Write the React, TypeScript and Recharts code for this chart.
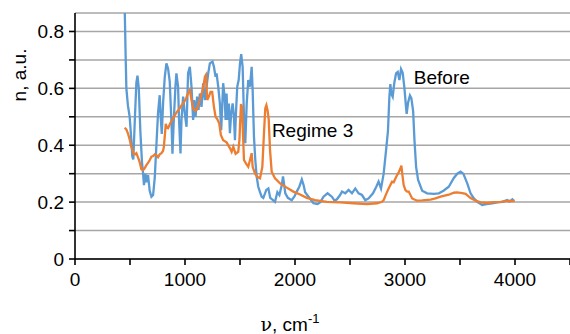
import React from 'react';
import { LineChart, Line, XAxis, YAxis, CartesianGrid, ReferenceDot } from 'recharts';

// Wavenumber (cm-1) and n (a.u.) for the "Before" spectrum
const beforeWavenumbers = [
  452, 460, 467, 481, 497, 512, 521, 530, 545, 558, 568, 580, 594, 609, 618, 627, 640, 649, 664, 679,
  695, 710, 725, 740, 755, 770, 779, 789, 801, 816, 831, 846, 861, 877, 886, 898, 913, 922, 937, 946,
  959, 968, 983, 998, 1014, 1028, 1044, 1059, 1074, 1083, 1096, 1110, 1123, 1135, 1150, 1165, 1181, 1196, 1211, 1226,
  1250, 1263, 1278, 1287, 1302, 1317, 1329, 1338, 1347, 1360, 1369, 1378, 1387, 1399, 1408, 1420, 1433, 1445, 1454, 1463,
  1475, 1488, 1500, 1511, 1524, 1536, 1548, 1561, 1575, 1591, 1606, 1615, 1627, 1639, 1652, 1666, 1682, 1697, 1712, 1739,
  1758, 1775, 1800, 1818, 1840, 1858, 1880, 1891, 1912, 1935, 1970, 1995, 2016, 2040, 2062, 2078, 2092, 2123, 2168, 2205,
  2230, 2259, 2296, 2335, 2360, 2381, 2410, 2427, 2457, 2487, 2518, 2548, 2578, 2609, 2639, 2669, 2709, 2739, 2760, 2782,
  2806, 2828, 2845, 2858, 2867, 2876, 2888, 2903, 2919, 2934, 2949, 2964, 2979, 2995, 3008, 3015, 3028, 3045, 3058, 3074,
  3086, 3101, 3119, 3156, 3201, 3262, 3307, 3350, 3398, 3444, 3475, 3505, 3530, 3566, 3596, 3626, 3660, 3702, 3740, 3794,
  3840, 3885, 3915, 3930, 3950, 3976, 3991,
];
const beforeValues = [
  0.88, 0.72, 0.6, 0.54, 0.5, 0.42, 0.36, 0.35, 0.5, 0.62, 0.645, 0.6, 0.45, 0.34, 0.305, 0.26, 0.3, 0.27, 0.295, 0.24,
  0.219, 0.225, 0.285, 0.4, 0.515, 0.576, 0.5, 0.44, 0.55, 0.64, 0.688, 0.67, 0.625, 0.48, 0.37, 0.489, 0.606, 0.653, 0.606, 0.489,
  0.371, 0.489, 0.571, 0.512, 0.465, 0.653, 0.676, 0.606, 0.489, 0.559, 0.5, 0.571, 0.524, 0.582, 0.535, 0.618, 0.559, 0.606, 0.653, 0.688,
  0.694, 0.676, 0.641, 0.653, 0.606, 0.547, 0.453, 0.535, 0.618, 0.571, 0.489, 0.582, 0.489, 0.547, 0.442, 0.512, 0.547, 0.5, 0.418, 0.512,
  0.606, 0.629, 0.688, 0.72, 0.676, 0.5, 0.407, 0.547, 0.629, 0.606, 0.676, 0.594, 0.43, 0.348, 0.289, 0.254, 0.235, 0.219, 0.215, 0.243,
  0.248, 0.215, 0.207, 0.201, 0.235, 0.225, 0.26, 0.29, 0.231, 0.215, 0.207, 0.22, 0.237, 0.255, 0.28, 0.26, 0.235, 0.219, 0.196, 0.193,
  0.2, 0.219, 0.231, 0.219, 0.205, 0.21, 0.225, 0.237, 0.231, 0.243, 0.231, 0.248, 0.231, 0.225, 0.207, 0.213, 0.231, 0.254, 0.272, 0.248,
  0.3, 0.383, 0.45, 0.57, 0.615, 0.58, 0.57, 0.62, 0.653, 0.658, 0.629, 0.668, 0.655, 0.6, 0.54, 0.51, 0.55, 0.575, 0.565, 0.52,
  0.418, 0.324, 0.278, 0.24, 0.231, 0.229, 0.231, 0.24, 0.254, 0.285, 0.3, 0.307, 0.3, 0.266, 0.231, 0.213, 0.2, 0.19, 0.193, 0.196,
  0.199, 0.201, 0.205, 0.207, 0.202, 0.21, 0.204,
];

// Wavenumber (cm-1) and n (a.u.) for the "Regime 3" spectrum
const regime3Wavenumbers = [
  452, 467, 481, 497, 512, 533, 545, 558, 570, 582, 595, 603, 620, 634, 649, 664, 680, 695, 710, 725,
  740, 755, 770, 786, 800, 807, 818, 825, 835, 846, 860, 877, 892, 907, 922, 937, 952, 968, 983, 998,
  1013, 1028, 1044, 1059, 1074, 1090, 1105, 1120, 1135, 1150, 1165, 1181, 1190, 1202, 1217, 1232, 1247, 1263, 1278, 1293,
  1311, 1326, 1347, 1378, 1408, 1424, 1439, 1460, 1484, 1495, 1500, 1509, 1518, 1527, 1536, 1554, 1575, 1591, 1606, 1615,
  1636, 1657, 1682, 1703, 1718, 1730, 1740, 1752, 1761, 1773, 1788, 1818, 1864, 1925, 1985, 2046, 2107, 2183, 2290, 2411,
  2532, 2654, 2745, 2791, 2806, 2830, 2851, 2882, 2897, 2928, 2943, 2958, 2967, 2975, 2988, 3004, 3019, 3034, 3065, 3110,
  3156, 3232, 3277, 3323, 3398, 3444, 3475, 3520, 3551, 3596, 3642, 3688, 3748, 3809, 3870, 3930, 3997,
];
const regime3Values = [
  0.462, 0.455, 0.442, 0.42, 0.395, 0.37, 0.368, 0.372, 0.36, 0.348, 0.33, 0.316, 0.313, 0.32, 0.33, 0.338, 0.348, 0.36, 0.362, 0.368,
  0.365, 0.358, 0.368, 0.372, 0.38, 0.392, 0.44, 0.475, 0.462, 0.46, 0.472, 0.485, 0.495, 0.505, 0.515, 0.522, 0.53, 0.54, 0.548, 0.556,
  0.568, 0.584, 0.594, 0.559, 0.53, 0.522, 0.524, 0.54, 0.56, 0.58, 0.6, 0.641, 0.647, 0.559, 0.571, 0.588, 0.588, 0.535, 0.5, 0.492,
  0.477, 0.436, 0.418, 0.41, 0.39, 0.377, 0.395, 0.37, 0.377, 0.42, 0.47, 0.545, 0.535, 0.442, 0.348, 0.336, 0.324, 0.348, 0.372, 0.324,
  0.301, 0.289, 0.284, 0.324, 0.442, 0.53, 0.541, 0.52, 0.49, 0.383, 0.307, 0.284, 0.266, 0.251, 0.237, 0.227, 0.215, 0.207, 0.201, 0.199,
  0.196, 0.193, 0.196, 0.201, 0.207, 0.23, 0.248, 0.272, 0.27, 0.295, 0.305, 0.318, 0.328, 0.3, 0.26, 0.242, 0.237, 0.237, 0.213, 0.205,
  0.206, 0.209, 0.213, 0.219, 0.226, 0.233, 0.234, 0.232, 0.229, 0.214, 0.205, 0.199, 0.197, 0.2, 0.201, 0.204, 0.204,
];

const xTicks = [0, 500, 1000, 1500, 2000, 2500, 3000, 3500, 4000, 4500];
const yTicks = [0, 0.1, 0.2, 0.3, 0.4, 0.5, 0.6, 0.7, 0.8];

const seriesNames = ['Before', 'Regime 3'];
const labelAnchors = [
  { x: 3080, y: 0.64 },
  { x: 1790, y: 0.453 },
];

const beforeData = beforeWavenumbers.map((v, i) => ({ v, n: beforeValues[i] }));
const regime3Data = regime3Wavenumbers.map((v, i) => ({ v, n: regime3Values[i] }));

const FONT = '"Liberation Sans", Arial, sans-serif';
const BLUE = '#5B9BD5';
const ORANGE = '#ED7D31';

const fmtX = (v: number) => (v % 1000 === 0 ? String(v) : '');
const fmtY = (v: number) => {
  const k = Math.round(v * 10);
  if (k % 2 !== 0) return '';
  return k === 0 ? '0' : v.toFixed(1);
};

const textLabel = (text: string) => (props: any) => {
  const { viewBox } = props;
  const cx = viewBox?.cx ?? viewBox?.x ?? 0;
  const cy = viewBox?.cy ?? viewBox?.y ?? 0;
  return (
    <text x={cx} y={cy} dy="0.36em" textAnchor="start" fontFamily={FONT} fontSize={19} fill="#000">
      {text}
    </text>
  );
};

const XTitle = (props: any) => {
  const vb = props.viewBox || {};
  const x = (vb.x ?? 0) + 215;
  const y = 331;
  return (
    <text x={x} y={y} textAnchor="middle" fontFamily={FONT} fontSize={19} fill="#000">
      <tspan fontFamily='"DejaVu Serif", "Liberation Serif", serif'>ν</tspan>
      <tspan>, cm</tspan>
      <tspan fontSize={13} dy={-8}>-1</tspan>
    </text>
  );
};

const YTitle = () => (
  <text x={0} y={0} transform="translate(26, 75) rotate(-90)" textAnchor="middle" fontFamily={FONT} fontSize={19} fill="#000">
    n, a.u.
  </text>
);

export default function App() {
  return (
    <div style={{ position: 'absolute', left: 0, top: 0, width: 570, height: 334, background: '#fff' }}>
      <LineChart width={570} height={334} margin={{ top: 13, right: 0, bottom: 0, left: 0 }}>
        <CartesianGrid horizontal vertical={false} stroke="#A6A6A6" strokeWidth={1.5} />
        <XAxis
          type="number"
          dataKey="v"
          domain={[0, 4500]}
          ticks={xTicks}
          tickFormatter={fmtX}
          interval={0}
          height={75}
          tickSize={6}
          tickMargin={8}
          stroke="#000"
          strokeWidth={1.6}
          tick={{ fill: '#000', fontSize: 19, fontFamily: FONT }}
          allowDataOverflow
          label={<XTitle />}
        />
        <YAxis
          type="number"
          dataKey="n"
          domain={[0, 0.865]}
          ticks={yTicks}
          tickFormatter={fmtY}
          interval={0}
          width={75}
          tickSize={6}
          tickMargin={5}
          stroke="#000"
          strokeWidth={1.6}
          tick={{ fill: '#000', fontSize: 19, fontFamily: FONT }}
          allowDataOverflow
          label={<YTitle />}
        />
        <Line
          data={beforeData}
          dataKey="n"
          name={seriesNames[0]}
          type="linear"
          stroke={BLUE}
          strokeWidth={2.3}
          dot={false}
          isAnimationActive={false}
        />
        <Line
          data={regime3Data}
          dataKey="n"
          name={seriesNames[1]}
          type="linear"
          stroke={ORANGE}
          strokeWidth={2.3}
          dot={false}
          isAnimationActive={false}
        />
        <ReferenceDot x={labelAnchors[0].x} y={labelAnchors[0].y} r={0} stroke="none" fill="none" label={textLabel(seriesNames[0])} />
        <ReferenceDot x={labelAnchors[1].x} y={labelAnchors[1].y} r={0} stroke="none" fill="none" label={textLabel(seriesNames[1])} />
      </LineChart>
    </div>
  );
}
